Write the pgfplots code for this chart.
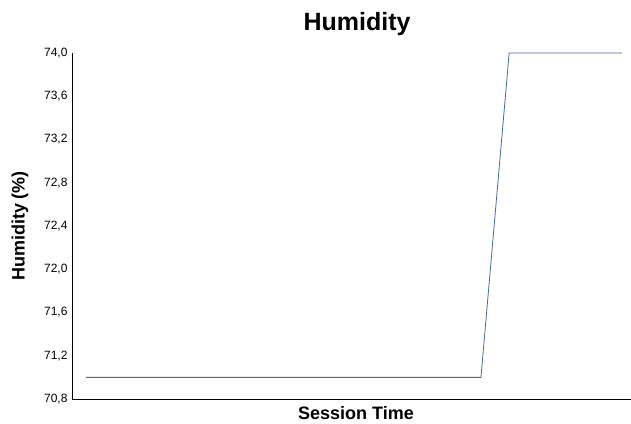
\documentclass[border=0pt]{standalone}
\usepackage{pgfplots}
\pgfplotsset{compat=1.18}
\usepackage{fontspec}
\setmainfont{Liberation Sans}
\definecolor{lineblue}{HTML}{3F6AA6}
\begin{document}
\begin{tikzpicture}
\begin{axis}[
  name=ax,
  scale only axis,
  width=559pt, height=346pt,
  xmin=-0.5, xmax=19.32,
  ymin=70.8, ymax=74.0,
  ytick={70.8,71.2,71.6,72.0,72.4,72.8,73.2,73.6,74.0},
  xtick=\empty,
  axis x line*=bottom,
  axis y line*=left,
  axis line style={black, line width=0.9pt, -},
  major tick length=0pt,
  yticklabel style={font=\fontsize{12}{14}\selectfont, xshift=-1pt},
  /pgf/number format/assume math mode=true,
  /pgf/number format/.cd, fixed, fixed zerofill, precision=1, use comma,
]
\addplot[lineblue, line width=0.8pt, mark=none] coordinates {
(0,71.0)(1,71.0)(2,71.0)(3,71.0)(4,71.0)(5,71.0)(6,71.0)(7,71.0)(8,71.0)(9,71.0)
(10,71.0)(11,71.0)(12,71.0)(13,71.0)(14,71.0)(15,74.0)(16,74.0)(17,74.0)(18,74.0)(19,74.0)
};
\end{axis}
\node[font=\bfseries\fontsize{25}{30}\selectfont, anchor=base, inner sep=0pt] at ([xshift=5.5pt,yshift=22pt]ax.north) {Humidity};
\node[font=\bfseries\fontsize{18}{22}\selectfont, rotate=90, inner sep=0pt] at ([xshift=-52pt]ax.west) {Humidity (\%)};
\node[font=\bfseries\fontsize{18}{22}\selectfont, anchor=base, inner sep=0pt] at ([xshift=4.5pt,yshift=-21pt]ax.south) {Session Time};
\pgfresetboundingbox
\path[use as bounding box] ([xshift=-72pt,yshift=-25pt]ax.south west) rectangle ([yshift=53pt]ax.north east);
\end{tikzpicture}
\end{document}
